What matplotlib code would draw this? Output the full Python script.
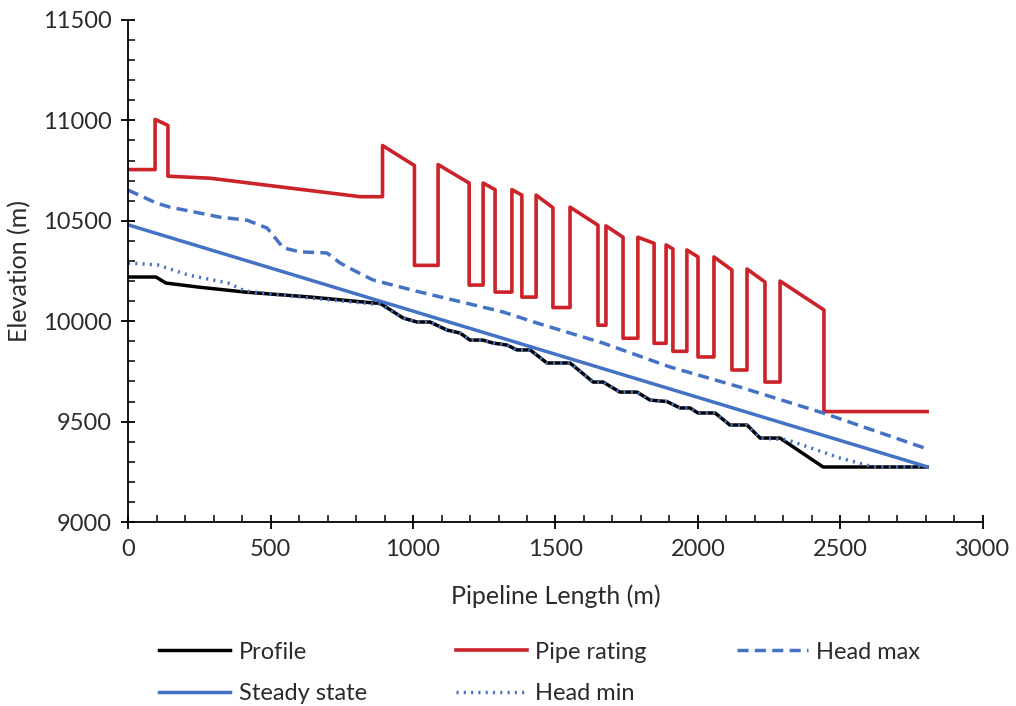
import matplotlib.pyplot as plt
from matplotlib.ticker import MultipleLocator

# pipeline profile (m)
profile_x = [0, 98, 133, 246, 411, 642, 867, 884, 965, 1014, 1060, 1119, 1165, 1200, 1245,
             1281, 1330, 1365, 1411, 1470, 1551, 1632, 1667, 1726, 1786, 1832, 1891, 1937,
             1972, 2000, 2060, 2112, 2172, 2218, 2288, 2439, 2804]
profile_y = [10220, 10220, 10190, 10170, 10145, 10120, 10090, 10090, 10016, 9996, 9996, 9956,
             9941, 9906, 9906, 9891, 9881, 9857, 9857, 9792, 9792, 9697, 9697, 9647, 9647,
             9607, 9600, 9568, 9568, 9543, 9543, 9483, 9483, 9418, 9418, 9274, 9274]

rating_x = [0, 95, 95, 140, 140, 288, 814, 893, 893, 1005, 1005, 1088, 1088, 1197, 1197, 1246,
            1246, 1288, 1288, 1347, 1347, 1382, 1382, 1432, 1432, 1491, 1491, 1551, 1551, 1649,
            1649, 1677, 1677, 1737, 1737, 1789, 1789, 1846, 1846, 1888, 1888, 1912, 1912, 1961,
            1961, 2000, 2000, 2056, 2056, 2119, 2119, 2172, 2172, 2235, 2235, 2288, 2288, 2442,
            2442, 2804]
rating_y = [10755, 10755, 11005, 10975, 10722, 10712, 10620, 10620, 10875, 10775, 10278, 10278,
            10780, 10688, 10180, 10180, 10688, 10655, 10145, 10145, 10655, 10628, 10120, 10120,
            10628, 10565, 10068, 10068, 10568, 10478, 9980, 9980, 10475, 10418, 9915, 9915,
            10418, 10388, 9890, 9890, 10380, 10360, 9850, 9850, 10355, 10320, 9822, 9822,
            10320, 10255, 9757, 9757, 10260, 10195, 9697, 9697, 10200, 10056, 9550, 9550]

steady_x = [0, 2804]
steady_y = [10480, 9275]

hmax_x = [0, 100, 147, 253, 323, 418, 488, 545, 604, 698, 744, 790, 860, 1025, 1084, 1316,
          1435, 1667, 1902, 2147, 2439, 2796]
hmax_y = [10653, 10588, 10568, 10538, 10518, 10503, 10464, 10365, 10345, 10340, 10290, 10255,
          10205, 10145, 10125, 10046, 9991, 9891, 9772, 9672, 9543, 9368]

hmin_x = [0, 105, 211, 351, 411, 642, 867, 884, 965, 1014, 1060, 1119, 1165, 1200, 1245,
          1281, 1330, 1365, 1411, 1470, 1551, 1632, 1667, 1726, 1786, 1832, 1891, 1937,
          1972, 2000, 2060, 2112, 2172, 2218, 2312, 2498, 2614, 2804]
hmin_y = [10290, 10280, 10230, 10190, 10150, 10115, 10085, 10085, 10016, 9996, 9996, 9956,
          9941, 9906, 9906, 9891, 9881, 9857, 9857, 9792, 9792, 9697, 9697, 9647, 9647,
          9607, 9600, 9568, 9568, 9543, 9543, 9483, 9483, 9418, 9410, 9319, 9275, 9275]

plt.rcParams['font.family'] = ['Lato', 'DejaVu Sans']

fig = plt.figure(figsize=(10.16, 7.06), dpi=100)
ax = fig.add_axes([0.126, 0.2606, 0.8415, 0.7111])

blue = '#4472C4'
red = '#CC2229'

l_prof, = ax.plot(profile_x, profile_y, color='black', lw=2.5, label='Profile')
l_rate, = ax.plot(rating_x, rating_y, color=red, lw=2.6, label='Pipe rating')
l_steady, = ax.plot(steady_x, steady_y, color=blue, lw=2.5, label='Steady state')
l_max, = ax.plot(hmax_x, hmax_y, color=blue, lw=2.5, ls=(0, (3.2, 1.8)), label='Head max')
l_min, = ax.plot(hmin_x, hmin_y, color=blue, lw=2.5, ls=(0, (0.6, 1.5)), label='Head min')

ax.set_xlim(0, 3000)
ax.set_ylim(9000, 11500)
ax.xaxis.set_major_locator(MultipleLocator(500))
ax.xaxis.set_minor_locator(MultipleLocator(100))
ax.yaxis.set_major_locator(MultipleLocator(500))
ax.yaxis.set_minor_locator(MultipleLocator(100))

for s in ['top', 'right']:
    ax.spines[s].set_visible(False)
for s in ['left', 'bottom']:
    ax.spines[s].set_linewidth(1.3)

ax.tick_params(which='major', direction='inout', length=10, width=1.3,
               labelsize=17, labelcolor='#2b2b2b', pad=7)
ax.tick_params(which='minor', direction='in', length=5, width=1.1)

ax.set_xlabel('Pipeline Length (m)', fontsize=18, color='#2b2b2b', labelpad=18)
ax.set_ylabel('Elevation (m)', fontsize=18, color='#2b2b2b', labelpad=8)

fig.legend(handles=[l_prof, l_steady, l_rate, l_min, l_max], ncol=3, frameon=False,
           loc='lower left', bbox_to_anchor=(0.136, -0.027), fontsize=17,
           handlelength=3.0, handletextpad=0.35, columnspacing=3.8, labelspacing=0.85,
           labelcolor='#2b2b2b')

fig.savefig('out.png', dpi=100)
